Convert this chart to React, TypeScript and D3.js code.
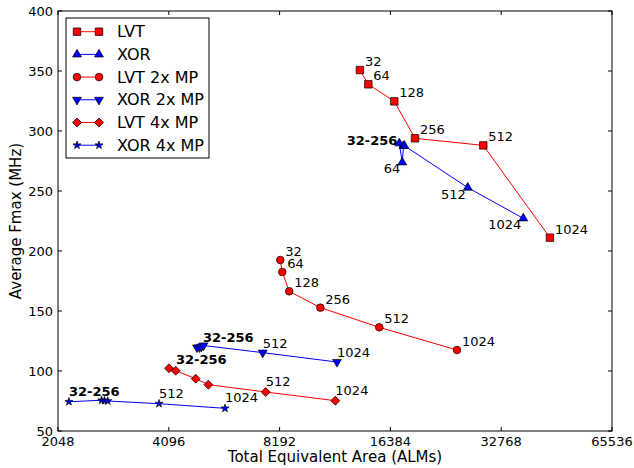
import React from "react";
import * as d3 from "d3";

const W = 634;
const H = 468;

const xTicks = [2048, 4096, 8192, 16384, 32768, 65536];
const yTicks = [50, 100, 150, 200, 250, 300, 350, 400];

const sizes = ["32", "64", "128", "256", "512", "1024"];

const lvtX = [13540, 14270, 16790, 19110, 29300, 44450];
const lvtY = [350.8, 338.9, 324.7, 293.9, 288, 211.1];
const xorX = [17320, 17650, 17780, 17870, 26580, 37640];
const xorY = [289.75, 273.9, 287.5, 287.75, 252.8, 227.2];
const lvt2X = [8228, 8330, 8700, 10570, 15280, 24850];
const lvt2Y = [192.5, 182.5, 166.4, 152.8, 136.4, 117.5];
const xor2X = [4886, 4963, 5025, 5089, 7370, 11730];
const xor2Y = [119.6, 119.6, 120.4, 121.25, 115.3, 107.5];
const lvt4X = [4102, 4276, 4847, 5245, 7510, 11608];
const lvt4Y = [102.25, 100.25, 93.6, 88.6, 82.5, 75.25];
const xor4X = [2193, 2690, 2740, 2795, 3853, 5822];
const xor4Y = [74.4, 75.6, 75.3, 75, 72.75, 68.9];

// point annotations per series (null = no label)
const lvtLabels = ["32", "64", "128", "256", "512", "1024"];
const xorLabels = ["32-256", "64", null, null, "512", "1024"];
const lvt2Labels = ["32", "64", "128", "256", "512", "1024"];
const xor2Labels = ["32-256", null, null, null, "512", "1024"];
const lvt4Labels = ["32-256", null, null, null, "512", "1024"];
const xor4Labels = ["32-256", null, null, null, "512", "1024"];

type Series = {
  name: string;
  xs: number[];
  ys: number[];
  labels: (string | null)[];
  color: string;
  marker: string;
};

const series: Series[] = [
  { name: "LVT", xs: lvtX, ys: lvtY, labels: lvtLabels, color: "#ff0000", marker: "square" },
  { name: "XOR", xs: xorX, ys: xorY, labels: xorLabels, color: "#0000ff", marker: "triUp" },
  { name: "LVT 2x MP", xs: lvt2X, ys: lvt2Y, labels: lvt2Labels, color: "#ff0000", marker: "circle" },
  { name: "XOR 2x MP", xs: xor2X, ys: xor2Y, labels: xor2Labels, color: "#0000ff", marker: "triDown" },
  { name: "LVT 4x MP", xs: lvt4X, ys: lvt4Y, labels: lvt4Labels, color: "#ff0000", marker: "diamond" },
  { name: "XOR 4x MP", xs: xor4X, ys: xor4Y, labels: xor4Labels, color: "#0000ff", marker: "star" },
];

// label placement style (offsets in px, anchor) per series and label kind
function labelPlacement(si: number, text: string) {
  const bold = text === "32-256";
  if (si === 0 || si === 2) return { dx: 5, dy: -4, anchor: "start", bold };
  if (si === 1) {
    if (bold) return { dx: -2, dy: 2, anchor: "end", bold };
    return { dx: -2, dy: 11, anchor: "end", bold };
  }
  if (si === 3) {
    if (bold) return { dx: 6, dy: -5, anchor: "start", bold };
    return { dx: 0, dy: -5, anchor: "start", bold };
  }
  if (si === 4) {
    if (bold) return { dx: 7, dy: -4, anchor: "start", bold };
    return { dx: 0, dy: -6, anchor: "start", bold };
  }
  return { dx: 0, dy: -6, anchor: "start", bold };
}

function markerPath(kind: string): { d: string; rotate: number } {
  switch (kind) {
    case "square":
      return { d: d3.symbol().type(d3.symbolSquare).size(56)() as string, rotate: 0 };
    case "triUp":
      return { d: d3.symbol().type(d3.symbolTriangle).size(34)() as string, rotate: 0 };
    case "triDown":
      return { d: d3.symbol().type(d3.symbolTriangle).size(34)() as string, rotate: 180 };
    case "circle":
      return { d: d3.symbol().type(d3.symbolCircle).size(46)() as string, rotate: 0 };
    case "diamond":
      return { d: d3.symbol().type(d3.symbolSquare).size(40)() as string, rotate: 45 };
    default:
      return { d: d3.symbol().type(d3.symbolStar).size(20)() as string, rotate: 0 };
  }
}

const FONT = "'DejaVu Sans', sans-serif";

export default function App() {
  const left = 58, right = 612, top = 11, bottom = 431;
  const x = d3.scaleLog().base(2).domain([2048, 65536]).range([left, right]);
  const y = d3.scaleLinear().domain([50, 400]).range([bottom, top]);
  const line = d3
    .line<[number, number]>()
    .x((d) => x(d[0]))
    .y((d) => y(d[1]));

  const tickLen = 4;

  const legX = 66, legY = 18, legW = 143, legH = 140;
  const rowY0 = 31.7, rowStep = 22.7;

  return (
    <svg
      width={W}
      height={H}
      style={{ position: "absolute", left: 0, top: 0, background: "#fff" }}
      fontFamily={FONT}
    >
      <rect x={0} y={0} width={W} height={H} fill="#fff" />
      {series.map((s, si) => {
        const pts = s.xs.map((v, i) => [v, s.ys[i]] as [number, number]);
        const m = markerPath(s.marker);
        return (
          <g key={si}>
            <path d={line(pts) as string} fill="none" stroke={s.color} strokeWidth={1} />
            {pts.map((p, i) => (
              <path
                key={i}
                d={m.d}
                transform={`translate(${x(p[0])},${y(p[1])}) rotate(${m.rotate})`}
                fill={s.color}
                stroke="#000"
                strokeWidth={0.7}
              />
            ))}
          </g>
        );
      })}
      {series.map((s, si) =>
        s.labels.map((t, i) => {
          if (!t) return null;
          const pl = labelPlacement(si, t);
          return (
            <text
              key={`${si}-${i}`}
              x={x(s.xs[i]) + pl.dx}
              y={y(s.ys[i]) + pl.dy}
              textAnchor={pl.anchor as any}
              fontSize={13}
              fontWeight={pl.bold ? "bold" : "normal"}
              fill="#000"
            >
              {t}
            </text>
          );
        })
      )}
      <rect x={left} y={top} width={right - left} height={bottom - top} fill="none" stroke="#000" strokeWidth={1} />
      {xTicks.map((t) => (
        <g key={t}>
          <line x1={x(t)} x2={x(t)} y1={bottom} y2={bottom - tickLen} stroke="#000" />
          <line x1={x(t)} x2={x(t)} y1={top} y2={top + tickLen} stroke="#000" />
          <text x={x(t)} y={446} textAnchor="middle" fontSize={13} fill="#000">
            {t}
          </text>
        </g>
      ))}
      {yTicks.map((t) => (
        <g key={t}>
          <line x1={left} x2={left + tickLen} y1={y(t)} y2={y(t)} stroke="#000" />
          <line x1={right} x2={right - tickLen} y1={y(t)} y2={y(t)} stroke="#000" />
          <text x={53} y={y(t)} dy="0.35em" textAnchor="end" fontSize={13} fill="#000">
            {t}
          </text>
        </g>
      ))}
      <text x={(left + right) / 2} y={462} textAnchor="middle" fontSize={15} fill="#000">
        Total Equivalent Area (ALMs)
      </text>
      <text
        transform={`translate(21,${(top + bottom) / 2}) rotate(-90)`}
        textAnchor="middle"
        fontSize={15}
        fill="#000"
      >
        Average Fmax (MHz)
      </text>
      <rect x={legX} y={legY} width={legW} height={legH} fill="#fff" stroke="#000" strokeWidth={1} />
      {series.map((s, si) => {
        const ry = rowY0 + si * rowStep;
        const m = markerPath(s.marker);
        return (
          <g key={si}>
            <line x1={77} x2={99} y1={ry} y2={ry} stroke={s.color} strokeWidth={1} />
            {[77, 99].map((mx) => (
              <path
                key={mx}
                d={m.d}
                transform={`translate(${mx},${ry}) rotate(${m.rotate})`}
                fill={s.color}
                stroke="#000"
                strokeWidth={0.7}
              />
            ))}
            <text x={117} y={ry} dy="0.35em" fontSize={16} fill="#000">
              {s.name}
            </text>
          </g>
        );
      })}
    </svg>
  );
}
